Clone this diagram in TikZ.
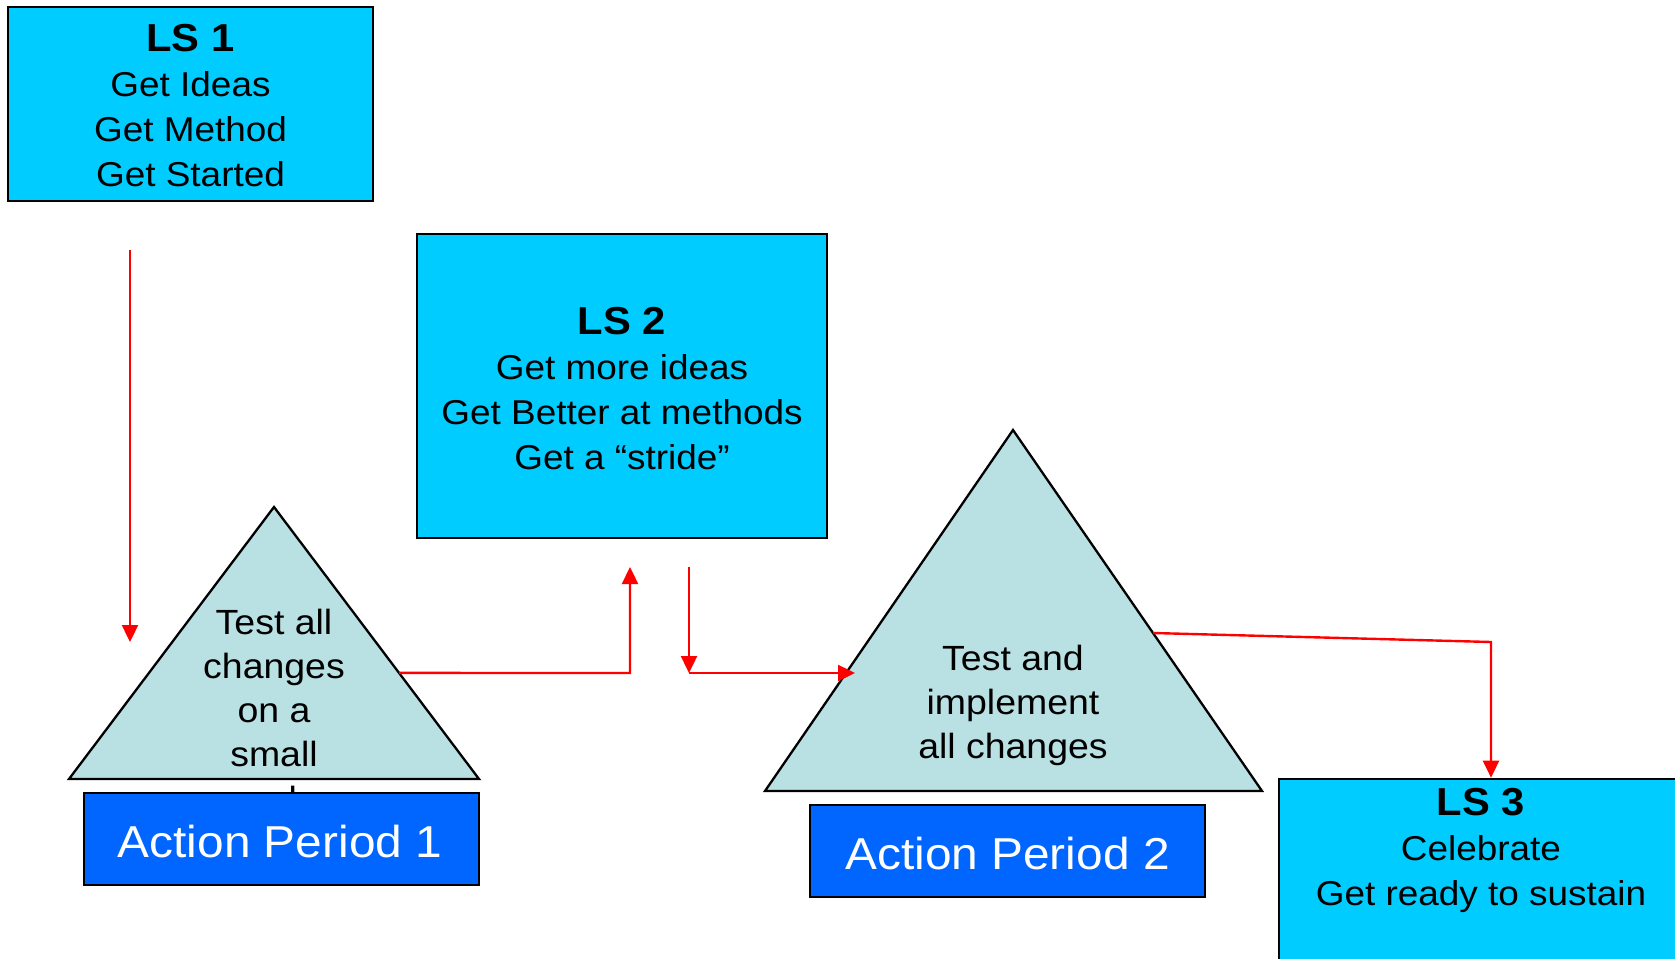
\documentclass[tikz,border=0pt]{standalone}
\usepackage{fontspec}
\setmainfont{Liberation Sans}[FakeStretch=1.07]
\usetikzlibrary{arrows.meta,calc}

\definecolor{lscyan}{RGB}{0,204,255}
\definecolor{apblue}{RGB}{0,102,255}
\definecolor{trifill}{RGB}{185,224,227}
\definecolor{flowred}{RGB}{255,0,0}

% centred lines whose baseline is the first line's baseline
\newcommand{\rowstack}[1]{\begin{tabular}[t]{@{}c@{}}#1\end{tabular}}
\newcommand{\lstitle}[1]{{\fontsize{39}{45}\selectfont\bfseries #1}}

\tikzset{
  lsbox/.style={draw=black, line width=2.6pt, fill=lscyan, inner sep=0pt},
  apbox/.style={draw=black, line width=2.6pt, fill=apblue, inner sep=0pt,
                minimum width=395pt, minimum height=92pt},
  tri/.style={draw=black, line width=2.3pt, fill=trifill, line join=miter},
  bodytext/.style={anchor=base, inner sep=0pt, font=\fontsize{34.5}{45}\selectfont},
  tritext/.style={anchor=base, inner sep=0pt, font=\fontsize{35}{44.3}\selectfont},
  aptext/.style={anchor=base, inner sep=0pt, text=white, font=\fontsize{44.7}{50}\selectfont},
  flow/.style={draw=flowred, line width=2.4pt, -{Triangle[length=17pt,width=16pt]}},
}

\begin{document}
\begin{tikzpicture}[x=1pt, y=-1pt]
  \useasboundingbox (0,0) rectangle (1675,958);
  \fill[white] (0,0) rectangle (1675,958);
  \clip (0,0) rectangle (1675,958);

  % triangles
  \coordinate (t1a) at (274,507);
  \coordinate (t1l) at (69,779);
  \coordinate (t1r) at (479,779);
  \coordinate (t2a) at (1013,430);
  \coordinate (t2l) at (765,791);
  \coordinate (t2r) at (1262,791);
  \draw[tri] (t1a) -- (t1r) -- (t1l) -- cycle;
  \draw[tri] (t2a) -- (t2r) -- (t2l) -- cycle;

  \node[tritext] (t1text) at (274,634)
    {\rowstack{Test all\\changes\\on a\\small\\scale}};
  \node[tritext] (t2text) at (1013,670)
    {\rowstack{Test and\\implement\\all changes}};

  % action period boxes
  \node[apbox] (ap1) at (281.5,839) {};
  \node[aptext] (ap1text) at (280,857) {Action Period 1};
  \node[apbox] (ap2) at (1007.5,851) {};
  \node[aptext] (ap2text) at (1007.5,869) {Action Period 2};

  % learning session boxes
  \node[lsbox, minimum width=365pt, minimum height=194pt] (ls1) at (190.5,104) {};
  \node[bodytext] (ls1text) at (190.5,52)
    {\rowstack{\lstitle{LS 1}\\Get Ideas\\Get Method\\Get Started}};

  \node[lsbox, minimum width=410pt, minimum height=304pt] (ls2) at (622,386) {};
  \node[bodytext] (ls2text) at (622,334)
    {\rowstack{\lstitle{LS 2}\\Get more ideas\\Get Better at methods\\Get a “stride”}};

  \node[lsbox, minimum width=421pt, minimum height=221pt] (ls3) at (1489.5,889.5) {};
  \node[bodytext] (ls3text) at (1481,815)
    {\rowstack{\lstitle{LS 3}\\Celebrate\\Get ready to sustain}};

  % connectors
  \coordinate (a1s) at (130,250);
  \coordinate (a1e) at (130,642);
  \draw[flow] (a1s) -- (a1e);

  \coordinate (t1out) at ($(t1a)!0.61!(t1r)$);
  \coordinate (up2) at (630,673);
  \coordinate (up2e) at (630,567);
  \draw[flow] (t1out) -- (up2) -- (up2e);

  \coordinate (dn3s) at (689,567);
  \coordinate (dn3e) at (689,673);
  \draw[flow] (dn3s) -- (dn3e);

  \coordinate (t2in) at (855,673);
  \draw[flow] (dn3e) -- (t2in);

  \coordinate (t2out) at ($(t2a)!0.5623!(t2r)$);
  \coordinate (bend5) at (1491,642);
  \draw[flow] (t2out) -- (bend5) -- (bend5 |- ls3.north);
\end{tikzpicture}
\end{document}
